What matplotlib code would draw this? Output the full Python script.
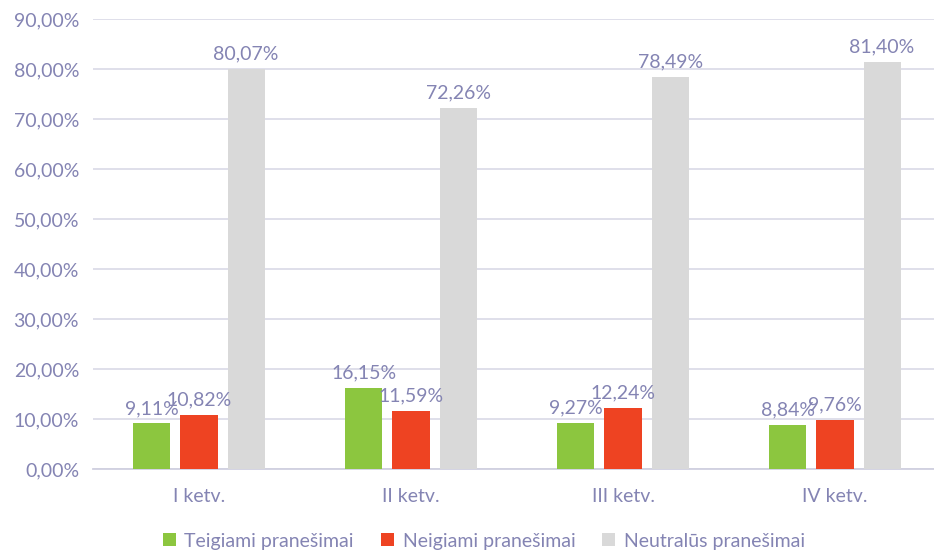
import matplotlib
matplotlib.use("Agg")
import matplotlib.pyplot as plt
import numpy as np

quarters = ["I ketv.", "II ketv.", "III ketv.", "IV ketv."]
series_names = ["Teigiami pranešimai", "Neigiami pranešimai", "Neutralūs pranešimai"]
teigiami = [9.11, 16.15, 9.27, 8.84]
neigiami = [10.82, 11.59, 12.24, 9.76]
neutralus = [80.07, 72.26, 78.49, 81.40]
colors = ["#8cc63f", "#ee4322", "#d9d9d9"]

TXT = "#8484b3"
plt.rcParams["font.family"] = ["Lato", "DejaVu Sans"]

fig = plt.figure(figsize=(9.34, 5.5), dpi=100)
ax = fig.add_axes([93 / 934, 81 / 550, 848 / 934, 450 / 550])

x = np.arange(len(quarters))
width = 0.175
step = 0.222
for i, (vals, name, c) in enumerate(zip([teigiami, neigiami, neutralus], series_names, colors)):
    pos = x + (i - 1) * step
    ax.bar(pos, vals, width, color=c, label=name, zorder=3)
    for px, v in zip(pos, vals):
        # the reference lets neighbouring labels touch, keep it that way
        ax.text(px, v + 1.3, f"{v:.2f}%".replace(".", ","), ha="center", va="bottom",
                fontsize=14, color=TXT, zorder=4)

ax.set_xlim(-0.5, 3.5)
ax.set_ylim(0, 90)
ax.set_yticks(np.arange(0, 91, 10))
ax.set_yticklabels([f"{t:.2f}%".replace(".", ",") for t in np.arange(0, 91, 10)])
ax.set_xticks(x)
ax.set_xticklabels(quarters)
ax.tick_params(axis="both", length=0, labelsize=14, colors=TXT)
ax.tick_params(axis="x", pad=14)
ax.tick_params(axis="y", pad=10)
ax.grid(axis="y", color="#dcdce8", linewidth=1.3, zorder=0)
for s in ["top", "right", "left"]:
    ax.spines[s].set_visible(False)
ax.spines["bottom"].set_color("#d0d0e0")
ax.spines["bottom"].set_linewidth(1.3)

fig.legend(loc="center", bbox_to_anchor=(484 / 934, 9 / 550), ncol=3, frameon=False,
           fontsize=14, labelcolor=TXT, handlelength=0.65, handleheight=0.65,
           handletextpad=0.45, columnspacing=1.4, borderpad=0.2)

fig.savefig("out.png", dpi=100)
